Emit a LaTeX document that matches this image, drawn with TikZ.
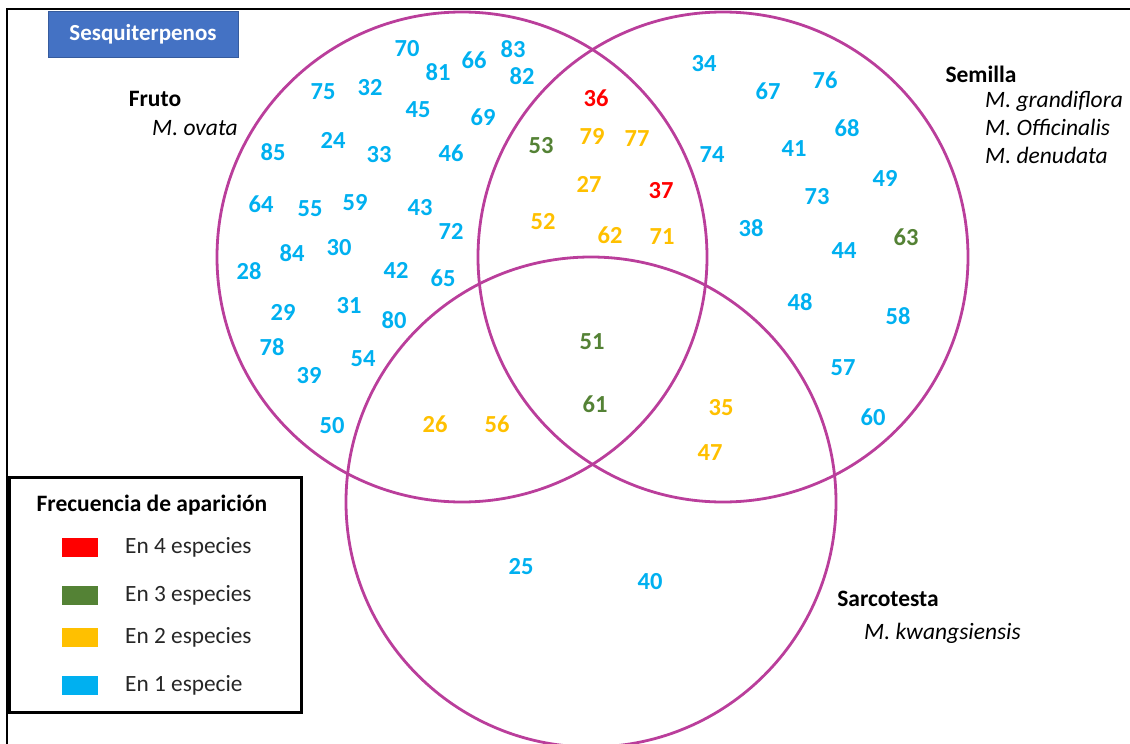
\documentclass[tikz,border=0pt]{standalone}
\usepackage{fontspec}
\setmainfont{Carlito}
\usetikzlibrary{positioning}
\usepackage{xcolor}
\definecolor{setline}{RGB}{186,62,155}
\definecolor{uno}{RGB}{0,176,240}
\definecolor{dos}{RGB}{255,192,0}
\definecolor{tres}{RGB}{84,130,53}
\definecolor{cuatro}{RGB}{255,0,0}
\definecolor{titulo}{RGB}{68,114,196}
\begin{document}
\begin{tikzpicture}[x=1pt,y=-1pt]
    \tikzstyle{set}=[circle, draw=setline, line width=2.8pt, minimum size=490pt, inner sep=0pt]
    \tikzstyle{num}=[font=\fontsize{24.5}{26}\selectfont\bfseries, inner sep=0pt]
    \tikzstyle{n1}=[num, text=uno]
    \tikzstyle{n2}=[num, text=dos]
    \tikzstyle{n3}=[num, text=tres]
    \tikzstyle{n4}=[num, text=cuatro]
    \tikzstyle{organ}=[font=\fontsize{23.5}{26}\selectfont\bfseries, inner sep=0pt]
    \tikzstyle{species}=[font=\fontsize{23.5}{28}\selectfont\itshape, inner sep=0pt, align=left]
    \tikzstyle{swatch}=[minimum width=36pt, minimum height=19pt, inner sep=0pt]
    \tikzstyle{entry}=[font=\fontsize{23.3}{26}\selectfont, inner sep=0pt, anchor=west, text=black!85]

    \useasboundingbox (0,0) rectangle (1130,744);
    % frame, runs off the page at right and bottom
    \draw[line width=2pt] (7,770) -- (7,9) -- (1160,9);

    % title
    \node[fill=titulo, draw=titulo!80!black, line width=0.5pt, minimum width=190pt, minimum height=46pt,
          text=white, font=\fontsize{23}{26}\selectfont\bfseries] (title) at (143,34) {Sesquiterpenos};

    % the three sets
    \node[set] (fruto) at (462,257) {};
    \node[set] (semilla) at (723,257) {};
    \node[set] (sarco) at (591,502) {};

    \node[organ] (fruto-l) at (155,99) {Fruto};
    \node[species, anchor=west] (fruto-s) at (152,128) {M. ovata};
    \node[organ] (semilla-l) at (981,74) {Semilla};
    \node[species, anchor=north west] (semilla-s) at (985,91) {M. grandiflora\\M. Officinalis\\M. denudata};
    \node[organ] (sarco-l) at (888,599) {Sarcotesta};
    \node[species, anchor=west] (sarco-s) at (864,633) {M. kwangsiensis};

    % Fruto only
    \foreach \n/\x/\y in {70/407/49, 81/438/72, 66/474/60, 83/513/49, 82/522/76, 75/323/92,
        32/370/88, 45/418/110, 69/483/117, 85/273/152, 24/333/140, 33/379/155, 46/451/153,
        64/261/204, 55/310/209, 59/355/203, 43/420/208, 72/451/231, 28/249/271, 84/292/253,
        30/339/248, 42/396/270, 65/443/278, 29/283/312, 31/349/306, 80/394/320, 78/272/347,
        54/363/359, 39/309/376, 50/332/426}
        \node[n1] (c-\n) at (\x,\y) {\n};

    % Semilla only
    \foreach \n/\x/\y in {34/704/64, 67/768/91, 76/825/80, 68/847/128, 74/712/155, 41/794/149,
        49/885/178, 73/817/197, 38/751/228, 44/844/251, 48/800/302, 58/898/316, 57/843/368,
        60/873/417}
        \node[n1] (c-\n) at (\x,\y) {\n};
    \node[n3] (c-63) at (906,237) {63};

    % Fruto and Semilla
    \node[n4] (c-36) at (596,98) {36};
    \node[n4] (c-37) at (661,191) {37};
    \node[n3] (c-53) at (541,146) {53};
    \foreach \n/\x/\y in {79/592/136, 77/637/139, 27/589/184, 52/543/222, 62/610/235, 71/662/237}
        \node[n2] (c-\n) at (\x,\y) {\n};

    % all three
    \node[n3] (c-51) at (592,342) {51};
    \node[n3] (c-61) at (595,404) {61};

    % pairs with Sarcotesta
    \foreach \n/\x/\y in {26/435/424, 56/497/424, 35/721/408, 47/710/453}
        \node[n2] (c-\n) at (\x,\y) {\n};

    % Sarcotesta only
    \node[n1] (c-25) at (521,567) {25};
    \node[n1] (c-40) at (650,582) {40};

    % legend
    \node[draw=black, line width=3pt, minimum width=292pt, minimum height=235pt, inner sep=0pt] (legend) at (155,594.5) {};
    \node[organ] (legend-t) at (152,505) {Frecuencia de aparición};
    \foreach \c/\y/\t [count=\i] in {cuatro/547/En 4 especies, tres/595/En 3 especies,
        dos/637/En 2 especies, uno/685/En 1 especie}{
        \node[swatch, fill=\c] (sw-\i) at (80,\y) {};
        \node[entry] (en-\i) at (125,\y) {\t};
    }
\end{tikzpicture}
\end{document}
